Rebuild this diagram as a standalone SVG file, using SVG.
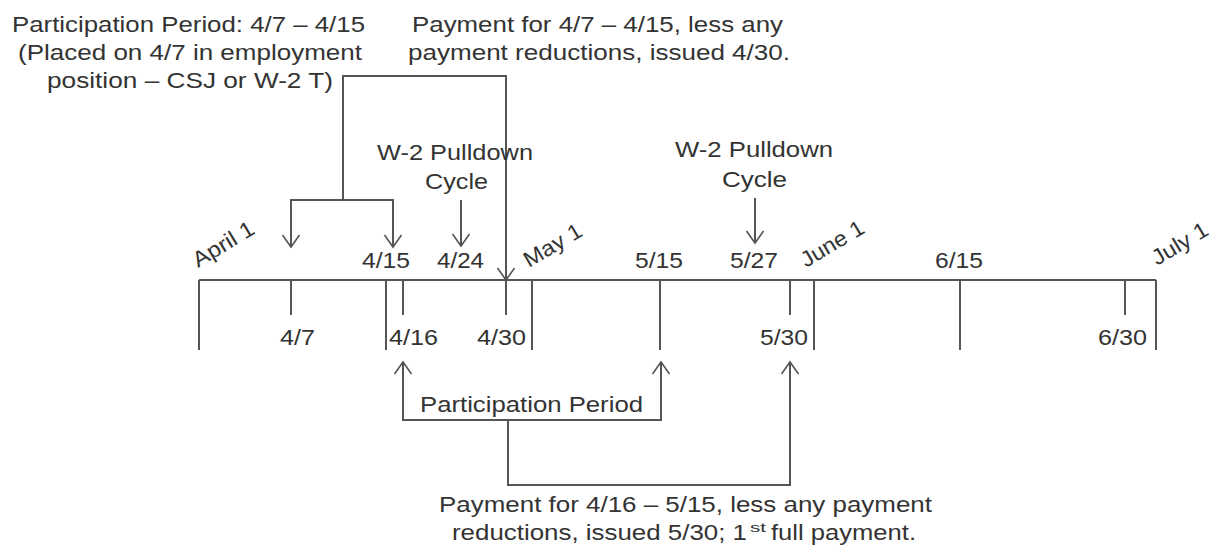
<svg xmlns="http://www.w3.org/2000/svg" width="1215" height="548" viewBox="0 0 1215 548">
<style>
text{font-family:"Liberation Sans",Arial,sans-serif;font-size:22px;fill:#333;}
.ln{stroke:#555;stroke-width:2;fill:none;}
.sup{font-size:13px;}
</style>
<defs>
<marker id="ah" markerUnits="userSpaceOnUse" markerWidth="30" markerHeight="30" viewBox="-15 -15 30 30" refX="0" refY="0" orient="auto-start-reverse" overflow="visible">
<path d="M-12,-8.5 L0,0 L-12,8.5" fill="none" stroke="#555" stroke-width="1.6"/>
</marker>
</defs>
<rect width="1215" height="548" fill="#fff"/>
<g id="timeline">
<path class="ln" d="M199,280 H1156"/>
<path class="ln" d="M199,280 V350 M386,280 V350 M532,280 V350 M660,280 V350 M814,280 V350 M960,280 V350 M1156,280 V350"/>
<path class="ln" d="M291,280 V315 M403,280 V315 M506,280 V315 M790,280 V315 M1125,280 V315"/>
</g>
<g id="connectors">
<path class="ln" d="M343,200 V76 H506 V280" marker-end="url(#ah)"/>
<path class="ln" d="M291,247 V200 H393 V247" marker-start="url(#ah)" marker-end="url(#ah)"/>
<path class="ln" d="M461,200 V246" marker-end="url(#ah)"/>
<path class="ln" d="M755,198 V243" marker-end="url(#ah)"/>
<path class="ln" d="M403,362 V420 H661 V362" marker-start="url(#ah)" marker-end="url(#ah)"/>
<path class="ln" d="M508,420 V485 H790 V362" marker-end="url(#ah)"/>
</g>
<g id="participation-note">
<text x="12" y="32" textLength="353" lengthAdjust="spacingAndGlyphs">Participation Period: 4/7 – 4/15</text>
<text x="18" y="60" textLength="344" lengthAdjust="spacingAndGlyphs">(Placed on 4/7 in employment</text>
<text x="47" y="88" textLength="286" lengthAdjust="spacingAndGlyphs">position – CSJ or W-2 T)</text>
</g>
<g id="payment-note-1">
<text x="412" y="32" textLength="371" lengthAdjust="spacingAndGlyphs">Payment for 4/7 – 4/15, less any</text>
<text x="408" y="60" textLength="382" lengthAdjust="spacingAndGlyphs">payment reductions, issued 4/30.</text>
</g>
<g id="pulldown-1">
<text x="377" y="160" textLength="156" lengthAdjust="spacingAndGlyphs">W-2 Pulldown</text>
<text x="425" y="189" textLength="63" lengthAdjust="spacingAndGlyphs">Cycle</text>
</g>
<g id="pulldown-2">
<text x="675" y="157" textLength="158" lengthAdjust="spacingAndGlyphs">W-2 Pulldown</text>
<text x="722" y="187" textLength="65" lengthAdjust="spacingAndGlyphs">Cycle</text>
</g>
<g id="month-labels">
<text transform="translate(198,268) rotate(-31)" textLength="68" lengthAdjust="spacingAndGlyphs">April 1</text>
<text transform="translate(529,268) rotate(-31)" textLength="64" lengthAdjust="spacingAndGlyphs">May 1</text>
<text transform="translate(806,268) rotate(-31)" textLength="70" lengthAdjust="spacingAndGlyphs">June 1</text>
<text transform="translate(1157,266) rotate(-31)" textLength="62" lengthAdjust="spacingAndGlyphs">July 1</text>
</g>
<g id="date-labels-top">
<text x="362" y="268" textLength="48" lengthAdjust="spacingAndGlyphs">4/15</text>
<text x="437" y="268" textLength="47" lengthAdjust="spacingAndGlyphs">4/24</text>
<text x="635" y="268" textLength="48" lengthAdjust="spacingAndGlyphs">5/15</text>
<text x="730" y="268" textLength="48" lengthAdjust="spacingAndGlyphs">5/27</text>
<text x="935" y="268" textLength="48" lengthAdjust="spacingAndGlyphs">6/15</text>
</g>
<g id="date-labels-bottom">
<text x="280" y="345" textLength="35" lengthAdjust="spacingAndGlyphs">4/7</text>
<text x="389" y="345" textLength="49" lengthAdjust="spacingAndGlyphs">4/16</text>
<text x="477" y="345" textLength="49" lengthAdjust="spacingAndGlyphs">4/30</text>
<text x="760" y="345" textLength="48" lengthAdjust="spacingAndGlyphs">5/30</text>
<text x="1098" y="345" textLength="49" lengthAdjust="spacingAndGlyphs">6/30</text>
</g>
<g id="participation-period">
<text x="420" y="412" textLength="223" lengthAdjust="spacingAndGlyphs">Participation Period</text>
</g>
<g id="payment-note-2">
<text x="439" y="512" textLength="493" lengthAdjust="spacingAndGlyphs">Payment for 4/16 – 5/15, less any payment</text>
<text x="452" y="540" textLength="295" lengthAdjust="spacingAndGlyphs">reductions, issued 5/30; 1</text>
<text class="sup" x="750" y="532" textLength="16" lengthAdjust="spacingAndGlyphs">st</text>
<text x="771" y="540" textLength="145" lengthAdjust="spacingAndGlyphs">full payment.</text>
</g>
</svg>
